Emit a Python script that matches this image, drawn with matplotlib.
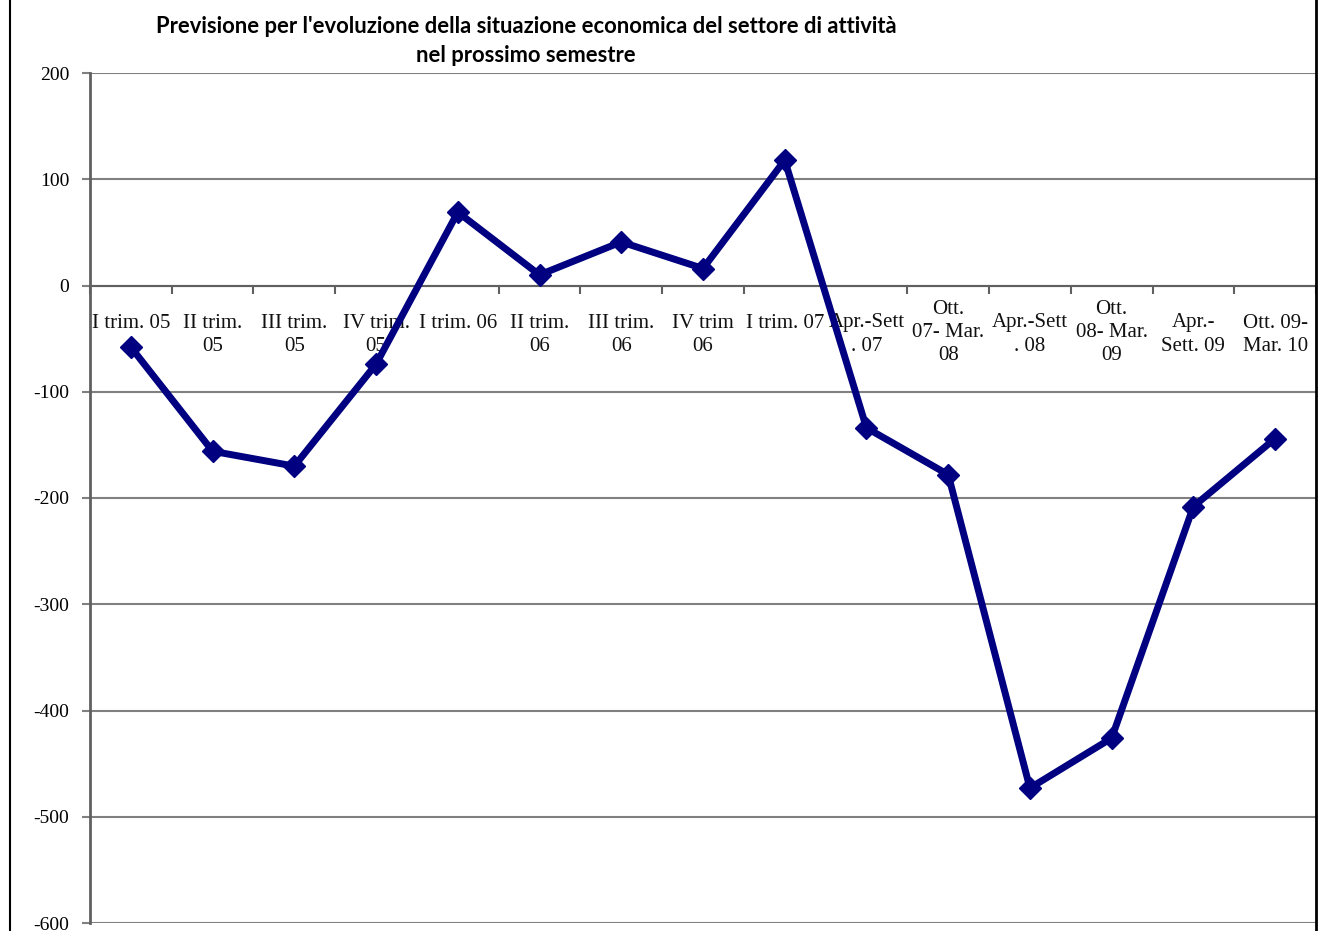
import matplotlib.pyplot as plt
from matplotlib.lines import Line2D
import numpy as np

# categorie e valori
periodi = ["I trim. 05", "II trim.\n05", "III trim.\n05", "IV trim.\n05",
           "I trim. 06", "II trim.\n06", "III trim.\n06", "IV trim\n06",
           "I trim. 07", "Apr.-Sett\n. 07", "Ott.\n07- Mar.\n08",
           "Apr.-Sett\n. 08", "Ott.\n08- Mar.\n09", "Apr.-\nSett. 09",
           "Ott. 09-\nMar. 10"]
saldo = [-58, -156, -170, -74, 69, 10, 41, 16, 118, -134, -178, -473, -426,
         -208, -144]
yTicks = [200, 100, 0, -100, -200, -300, -400, -500, -600]

titolo = ("Previsione per l'evoluzione della situazione economica del settore di attività\n"
          "nel prossimo semestre")

fig = plt.figure(figsize=(13.18, 9.31), dpi=100)
ax = fig.add_axes([90/1318, 8/931, 1226/1318, 850/931])

x = np.arange(len(saldo))
ax.plot(x, saldo, color='#000080', lw=5, marker='D', ms=11,
        solid_joinstyle='miter', zorder=3)

ax.set_xlim(-0.5, len(saldo) - 0.5)
ax.set_ylim(-600, 200)
ax.set_yticks(yTicks)
ax.set_yticklabels([str(v) for v in yTicks], family='Liberation Serif',
                   fontsize=14)
ax.yaxis.grid(True, color='#808080', lw=1.5)
ax.tick_params(axis='y', length=6, width=1.5, color='#808080', pad=9)

# asse delle categorie sullo zero
ax.spines['bottom'].set_position(('data', 0))
ax.spines['bottom'].set_color('#606060')
ax.spines['bottom'].set_linewidth(1.5)
ax.spines['left'].set_color('#606060')
ax.spines['left'].set_linewidth(2)
ax.spines['top'].set_visible(False)
ax.spines['right'].set_visible(False)
ax.set_xticks(x)
ax.set_xticks(np.arange(len(saldo) + 1) - 0.5, minor=True)
ax.tick_params(axis='x', which='major', length=0, pad=0)
ax.tick_params(axis='x', which='minor', length=6, width=1.5, color='#606060')
ax.set_xticklabels([])
for i, lab in enumerate(periodi):
    nRighe = lab.count('\n') + 1
    off = -28 if nRighe < 3 else -14
    ax.annotate(lab, (x[i], 0), xytext=(0, off), textcoords='offset pixels',
                ha='center', va='top', family='Liberation Serif', fontsize=15,
                linespacing=1.3, color='#111111', zorder=2)

fig.text(526/1318, 1 - 16/931, titolo, ha='center', va='top', family='Lato',
         fontweight='bold', fontsize=15.8, linespacing=1.45)

# bordi della figura
fig.add_artist(Line2D([10/1318, 10/1318], [0, 1], color='black', lw=1.5))
fig.add_artist(Line2D([1316/1318, 1316/1318], [0, 1], color='black', lw=2))

fig.savefig("out.png", dpi=100)
